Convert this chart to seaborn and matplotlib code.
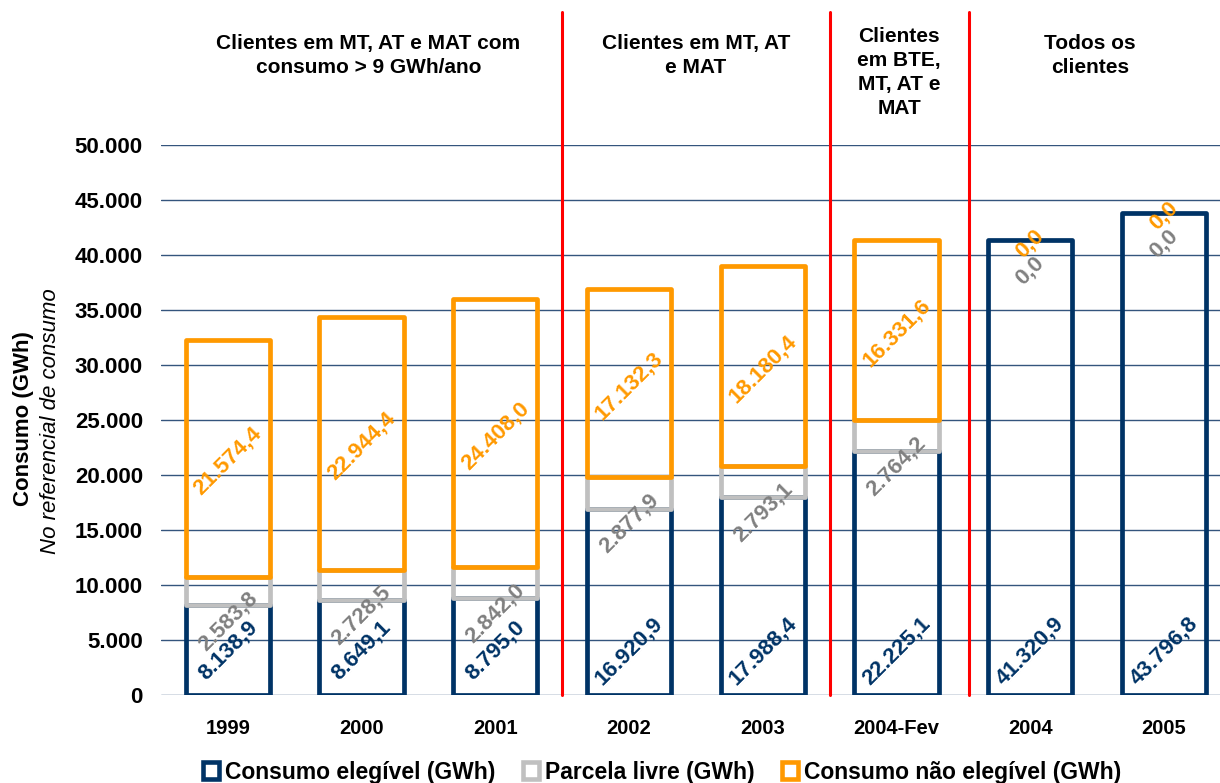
import matplotlib
matplotlib.use("Agg")
import matplotlib.pyplot as plt
import matplotlib.transforms as mtransforms
from matplotlib.patches import Patch
import seaborn as sns
import pandas as pd
import numpy as np

# --- data -------------------------------------------------------------------
years = ["1999", "2000", "2001", "2002", "2003", "2004-Fev", "2004", "2005"]
consumo_elegivel = [8138.9, 8649.1, 8795.0, 16920.9, 17988.4, 22225.1, 41320.9, 43796.8]
parcela_livre = [2583.8, 2728.5, 2842.0, 2877.9, 2793.1, 2764.2, 0.0, 0.0]
consumo_nao_elegivel = [21574.4, 22944.4, 24408.0, 17132.3, 18180.4, 16331.6, 0.0, 0.0]

series_names = ["Consumo elegível (GWh)", "Parcela livre (GWh)", "Consumo não elegível (GWh)"]
y_ticks = list(range(0, 50001, 5000))

group_titles = [
    "Clientes em MT, AT e MAT com\nconsumo > 9 GWh/ano",
    "Clientes em MT, AT\ne MAT",
    "Clientes\nem BTE,\nMT, AT e\nMAT",
    "Todos os\nclientes",
]
group_title_x = [1.05, 3.5, 5.02, 6.45]
group_title_y = [1.163, 1.163, 1.132, 1.163]
separators_x = [2.5, 4.5, 5.54]

# --- style ------------------------------------------------------------------
NAVY = "#003366"
GREY = "#C0C0C0"
GREY_TXT = "#808080"
ORANGE = "#FF9900"
GRID = "#34557D"

sns.set_theme(style="white")
plt.rcParams["font.family"] = ["Liberation Sans", "DejaVu Sans"]
plt.rcParams["font.weight"] = "bold"
plt.rcParams["text.color"] = "black"

W, H, DPI = 1220, 783, 100
fig = plt.figure(figsize=(W / DPI, H / DPI), dpi=DPI)
ax = fig.add_axes([161 / W, 1 - 695 / H, (W - 161) / W, 550 / H])

df = pd.DataFrame({
    "ano": years,
    "elegivel": consumo_elegivel,
    "livre": parcela_livre,
    "nao_elegivel": consumo_nao_elegivel,
})
bottom_livre = df["elegivel"].to_numpy()
bottom_nao = (df["elegivel"] + df["livre"]).to_numpy()

stack = [
    ("elegivel", np.zeros(len(df)), NAVY),
    ("livre", bottom_livre, GREY),
    ("nao_elegivel", bottom_nao, ORANGE),
]

BAR_W = 0.63
for col, bottom, color in stack:
    n_before = len(ax.patches)
    sns.barplot(data=df, x="ano", y=col, order=years, color=color,
                width=BAR_W, errorbar=None, fill=False, ax=ax)
    new = ax.patches[n_before:]
    # stack each segment on top of the previous series
    for p, b, h in zip(new, bottom, df[col]):
        p.set_y(b)
        p.set_height(h)
        p.set_facecolor("none")
        p.set_edgecolor(color)
        p.set_linewidth(3.4)
        p.set_joinstyle("round")
        p.set_zorder(3)
        if h == 0:
            p.set_visible(False)

ax.set_xlim(-0.5, 7.42)
ax.set_ylim(0, 50000)
ax.set_yticks(y_ticks)
ax.set_yticklabels([f"{t:,}".replace(",", ".") for t in y_ticks])
ax.set_xlabel("")
ax.set_ylabel("")
ax.grid(axis="y", color=GRID, linewidth=1.0)
ax.grid(axis="x", visible=False)
ax.set_axisbelow(True)
for s in ax.spines.values():
    s.set_visible(False)
ax.tick_params(axis="y", length=0, pad=13, labelsize=16)
ax.tick_params(axis="x", length=0, pad=17, labelsize=14.5)
for lbl in ax.get_xticklabels() + ax.get_yticklabels():
    lbl.set_fontweight("bold")
    lbl.set_color("black")


def pt(v):
    s = f"{v:,.1f}"
    return s.replace(",", "X").replace(".", ",").replace("X", ".")


label_kw = dict(rotation=45, ha="center", va="center", fontsize=16,
                fontweight="bold", textcoords="offset points", zorder=5)
for i in range(len(years)):
    e, l, n = consumo_elegivel[i], parcela_livre[i], consumo_nao_elegivel[i]
    ax.annotate(pt(e), xy=(i, 0), xytext=(0, 32), color=NAVY, **label_kw)
    ax.annotate(pt(l), xy=(i, e + l / 2), xytext=(0, -22), color=GREY_TXT, **label_kw)
    ax.annotate(pt(n), xy=(i, e + l + n / 2), xytext=(0, -2), color=ORANGE, **label_kw)

# group separators and titles
blend = mtransforms.blended_transform_factory(ax.transData, ax.transAxes)
for xs in separators_x:
    ax.plot([xs, xs], [0, 1.242], color="#FF0000", linewidth=2.2,
            transform=blend, clip_on=False, zorder=4)
for txt, tx, ty in zip(group_titles, group_title_x, group_title_y):
    ax.text(tx, ty, txt, transform=blend, ha="center", va="center",
            fontsize=15, fontweight="bold", linespacing=1.35, color="black")

# axis title
fig.text(23 / W, 1 - 419 / H, "Consumo (GWh)", rotation=90, ha="center",
         va="center", fontsize=16, fontweight="bold", color="black")
fig.text(51 / W, 1 - 421 / H, "No referencial de consumo", rotation=90,
         ha="center", va="center", fontsize=16, fontweight="normal",
         fontstyle="italic", color="black")

# legend
handles = [Patch(facecolor="white", edgecolor=c, linewidth=3.3)
           for c in (NAVY, GREY, ORANGE)]
leg = fig.legend(handles, series_names, loc="center", ncol=3,
                 bbox_to_anchor=(662 / W, 1 - 772 / H), frameon=False,
                 handlelength=0.7, handleheight=0.7, handletextpad=0.25,
                 columnspacing=1.2, prop={"size": 16.5, "weight": "bold"})
for t in leg.get_texts():
    t.set_color("black")

fig.savefig("out.png", dpi=DPI, facecolor="white")
